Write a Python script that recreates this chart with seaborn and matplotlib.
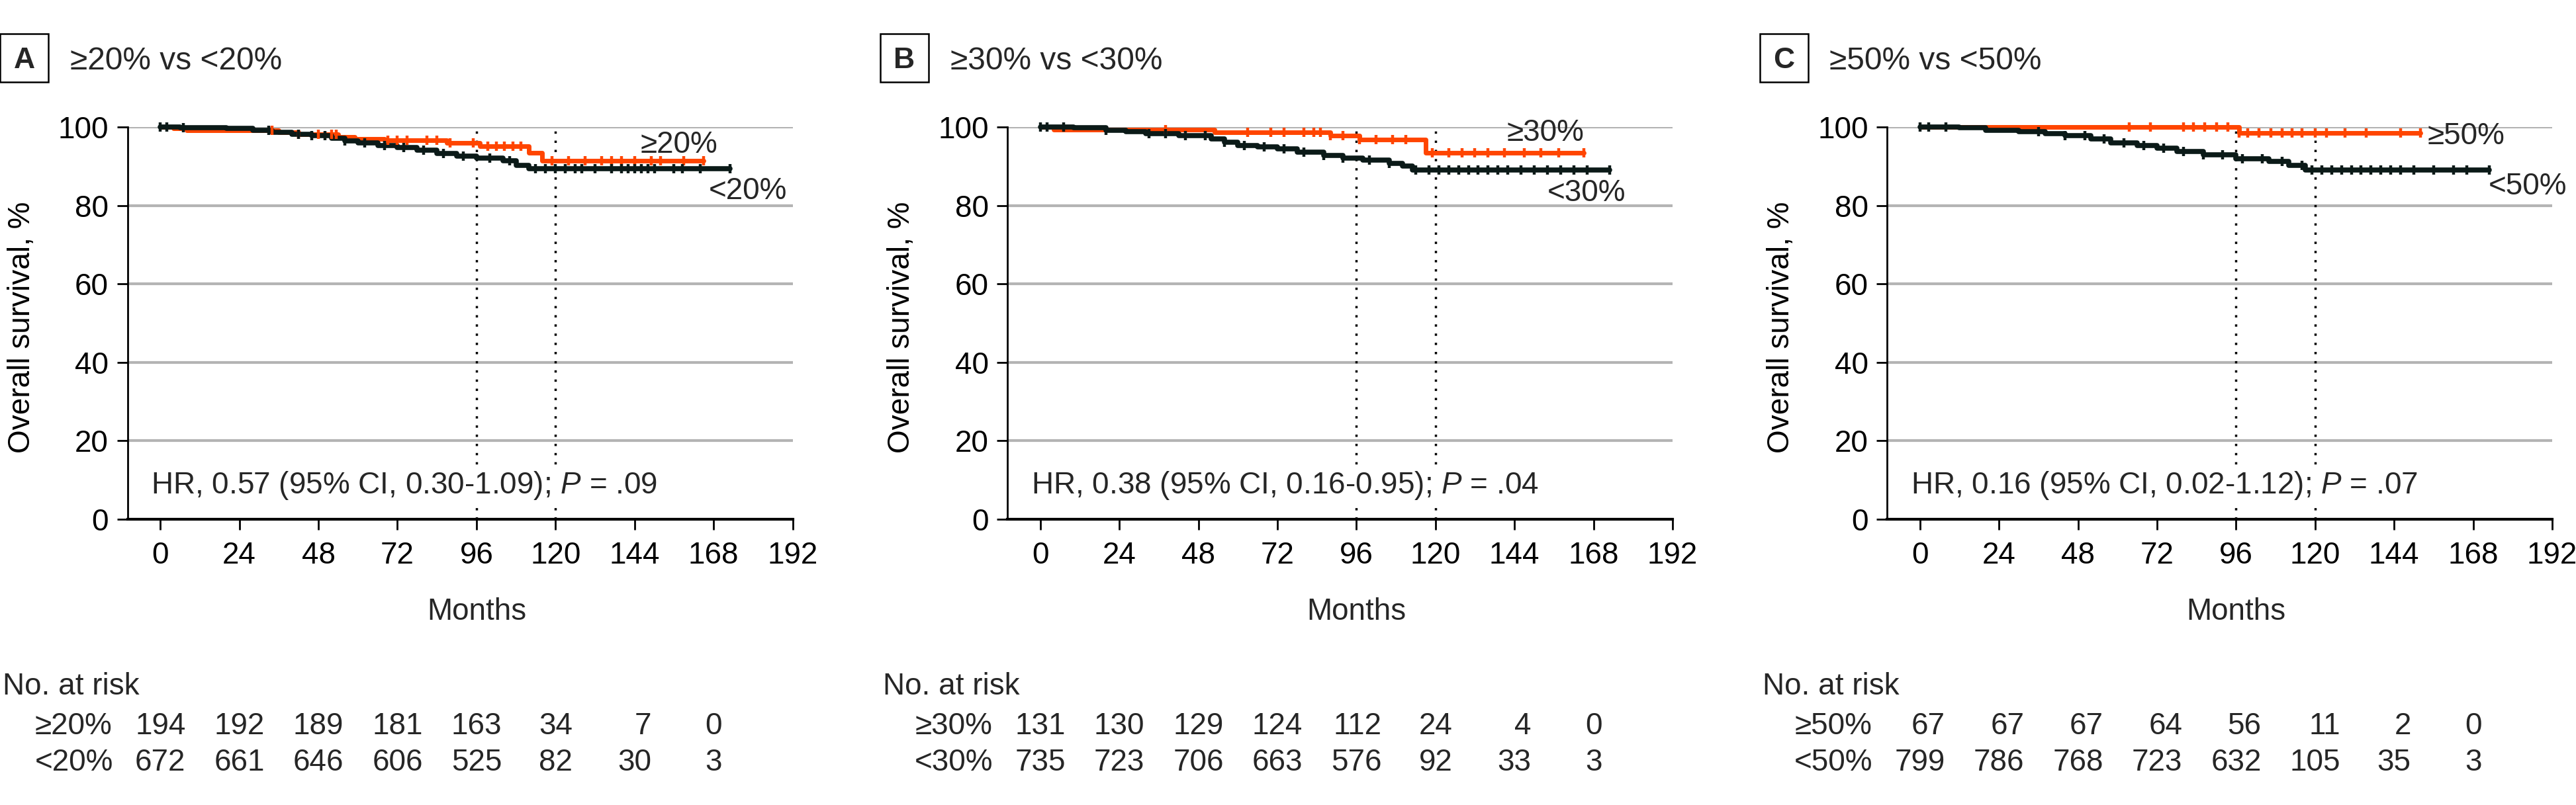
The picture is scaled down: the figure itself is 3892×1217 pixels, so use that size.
import numpy as np
import pandas as pd
import matplotlib
matplotlib.use('Agg')
import matplotlib.pyplot as plt
from matplotlib.patches import Rectangle
import seaborn as sns

# ── DATA ──────────────────────────────────────────────────────────────────────
months_ticks = [0, 24, 48, 72, 96, 120, 144, 168, 192]
risk_times = [0, 24, 48, 72, 96, 120, 144, 168]

panel_letters = ['A', 'B', 'C']
panel_titles = ['≥20% vs <20%', '≥30% vs <30%', '≥50% vs <50%']
group_hi = ['≥20%', '≥30%', '≥50%']
group_lo = ['<20%', '<30%', '<50%']
hr_texts = [r'HR, 0.57 (95% CI, 0.30-1.09); $\mathit{P}$ = .09',
            r'HR, 0.38 (95% CI, 0.16-0.95); $\mathit{P}$ = .04',
            r'HR, 0.16 (95% CI, 0.02-1.12); $\mathit{P}$ = .07']

# Kaplan-Meier steps (months, % surviving)
A_hi_t = [0, 4, 8, 36, 42, 54, 59, 68, 87, 97, 112, 116, 165]
A_hi_s = [100, 99.6, 99.1, 98.7, 98.2, 97.5, 97.0, 96.6, 96.0, 95.1, 93.4, 91.4, 91.4]
A_lo_t = [0, 6, 12, 20, 28, 34, 40, 46, 52, 56, 60, 66, 72, 78, 84, 90, 96, 104, 108, 112, 173]
A_lo_s = [100, 99.9, 99.8, 99.6, 99.2, 98.7, 98.2, 97.8, 97.1, 96.5, 95.9, 95.3, 94.8,
          94.1, 93.3, 92.6, 92.0, 91.4, 90.3, 89.3, 89.3]

B_hi_t = [0, 4, 53, 88, 97, 117, 165]
B_hi_s = [100, 99.3, 98.7, 97.8, 96.8, 93.5, 93.5]
B_lo_t = [0, 10, 20, 26, 32, 42, 52, 56, 60, 66, 72, 78, 86, 92, 98, 106, 110, 113, 173]
B_lo_s = [100, 99.8, 99.2, 98.8, 98.3, 97.8, 97.0, 96.2, 95.3, 94.9, 94.4, 93.6, 92.7,
          92.1, 91.6, 90.8, 90.0, 89.1, 89.1]

C_hi_t = [0, 97, 152]
C_hi_s = [100, 98.4, 98.4]
C_lo_t = [0, 12, 20, 30, 38, 44, 52, 58, 66, 72, 78, 86, 96, 106, 112, 117, 173]
C_lo_s = [100, 99.8, 99.2, 98.8, 98.3, 97.8, 97.0, 95.9, 95.2, 94.6, 93.8, 92.9, 91.9,
          91.3, 90.2, 89.1, 89.1]

# censoring marks (months)
A_hi_c = [34, 42, 48, 52, 53.5, 69, 72, 75, 81, 84, 88, 95, 99.5, 102, 104.5, 107, 109.5,
          119, 124, 129, 134, 137, 140, 144, 149, 152, 159, 165]
A_lo_c = [0, 2, 7, 33, 42, 46, 50, 56, 62, 68, 74, 80, 86, 92, 100, 106, 114, 117, 120,
          123, 126, 128, 132, 137, 140, 142, 144, 146, 148, 150, 156, 158.5, 164, 173]
B_hi_c = [38, 63, 70, 74, 80, 83, 85, 88, 92, 97, 102, 107, 111, 119, 124, 128, 132, 136,
          141, 147, 152, 157.5, 165]
B_lo_c = [0, 2, 7, 20, 33, 38, 44, 50, 56, 62, 68, 74, 80, 86, 92, 100, 106, 114, 118, 121,
          124, 127, 130, 133, 136, 139, 142, 146, 150, 154, 158, 162, 166, 173]
C_hi_c = [63.5, 70, 80, 83, 86.5, 90, 93.5, 97, 99.5, 103, 106.5, 110, 113, 116, 120, 123.5,
          129, 135.5, 146, 152]
C_lo_c = [0, 2.6, 7.8, 36, 44, 50, 56, 62, 68, 74, 80, 86, 92, 98, 104, 110, 116, 119, 122,
          125, 128, 131, 134, 137, 140, 143, 146, 150, 156, 162, 166, 173]

# numbers at risk
A_hi_risk = [194, 192, 189, 181, 163, 34, 7, 0]
A_lo_risk = [672, 661, 646, 606, 525, 82, 30, 3]
B_hi_risk = [131, 130, 129, 124, 112, 24, 4, 0]
B_lo_risk = [735, 723, 706, 663, 576, 92, 33, 3]
C_hi_risk = [67, 67, 67, 64, 56, 11, 2, 0]
C_lo_risk = [799, 786, 768, 723, 632, 105, 35, 3]

curves = [
    (A_hi_t, A_hi_s, A_hi_c, A_lo_t, A_lo_s, A_lo_c, A_hi_risk, A_lo_risk),
    (B_hi_t, B_hi_s, B_hi_c, B_lo_t, B_lo_s, B_lo_c, B_hi_risk, B_lo_risk),
    (C_hi_t, C_hi_s, C_hi_c, C_lo_t, C_lo_s, C_lo_c, C_hi_risk, C_lo_risk),
]

# ── STYLE / LAYOUT ────────────────────────────────────────────────────────────
sns.set_style('white')
plt.rcParams['font.family'] = ['Liberation Sans', 'DejaVu Sans']
plt.rcParams['mathtext.fontset'] = 'custom'
plt.rcParams['mathtext.rm'] = 'Liberation Sans'
plt.rcParams['mathtext.it'] = 'Liberation Sans:italic'

ORANGE = '#FF4500'
BLACK = '#0B1A18'
GRID = '#b4b4b4'
FS = 33

W, H = 3892, 1217
AX_W, AX_H = 1005, 593            # pixels
AX_LEFTS = [192.5, 1522, 2851]    # pixel x of each y spine
AX_TOP = 192                      # pixel y of the 100 % line

# label anchors inside each panel (months, %)
hi_label_pos = [(145.7, 93.4), (141.6, 96.5), (154.1, 95.6)]
lo_label_pos = [(166.6, 81.6), (153.9, 81.1), (172.6, 82.8)]


def ax_y(py):
    return (AX_TOP + AX_H - py) / AX_H


def step_value(t, s, c):
    idx = np.searchsorted(np.asarray(t), np.asarray(c), side='right') - 1
    return np.asarray(s)[idx]


fig = plt.figure(figsize=(W / 100, H / 100), dpi=100)

for i in range(3):
    hi_t, hi_s, hi_c, lo_t, lo_s, lo_c, hi_r, lo_r = curves[i]
    ax = fig.add_axes([AX_LEFTS[i] / W, (H - AX_TOP - AX_H) / H, AX_W / W, AX_H / H])

    ax.set_xlim(-10, 192)
    ax.set_ylim(0, 100)
    ax.set_axisbelow(True)
    ax.yaxis.grid(True, color=GRID, lw=3)
    ax.xaxis.grid(False)

    ax.vlines([96, 120], 0, 100, colors='black', linestyles=(0, (1, 3)), lw=2.5, zorder=1.5)

    for t, s, c, col, lw in [(hi_t, hi_s, hi_c, ORANGE, 5.0), (lo_t, lo_s, lo_c, BLACK, 5.5)]:
        df = pd.DataFrame({'Months': t, 'Survival': s})
        sns.lineplot(data=df, x='Months', y='Survival', drawstyle='steps-post',
                     estimator=None, sort=False, color=col, lw=lw, ax=ax,
                     clip_on=False, zorder=3)
        cdf = pd.DataFrame({'Months': c, 'Survival': step_value(t, s, c)})
        sns.scatterplot(data=cdf, x='Months', y='Survival', marker='|', s=110,
                        color=col, linewidth=3.2, ax=ax, clip_on=False, zorder=4)

    ax.set_xticks(months_ticks)
    ax.set_yticks([0, 20, 40, 60, 80, 100])
    ax.tick_params(axis='both', which='both', bottom=True, left=True, direction='out',
                   length=11.5, width=2, color='black', labelsize=FS, labelcolor='black')
    ax.tick_params(axis='x', pad=12)
    ax.tick_params(axis='y', pad=9)

    sns.despine(ax=ax)
    ax.spines['left'].set_bounds(0, 100)
    ax.spines['left'].set_linewidth(2)
    ax.spines['bottom'].set_linewidth(3)
    ax.spines['left'].set_color('black')
    ax.spines['bottom'].set_color('black')

    ax.set_xlabel('')
    ax.set_ylabel('Overall survival, %', fontsize=FS, color='black')
    ax.yaxis.set_label_coords(-0.137, 0.489)
    ax.text(96, ax_y(937), 'Months', transform=ax.get_xaxis_transform(),
            ha='center', va='baseline', fontsize=FS)

    # group labels at the curve ends
    ax.text(*hi_label_pos[i], group_hi[i], fontsize=FS, va='baseline', ha='left')
    ax.text(*lo_label_pos[i], group_lo[i], fontsize=FS, va='baseline', ha='left')

    # hazard ratio
    ax.text(-2.8, 6.5, hr_texts[i], fontsize=FS, va='baseline', ha='left', zorder=5,
            bbox=dict(facecolor='white', edgecolor='none', pad=5))

    # panel letter box and title
    ax.add_patch(Rectangle((-192.5 / AX_W, ax_y(124)), 73 / AX_W, 73 / AX_H,
                           transform=ax.transAxes, fill=False, edgecolor='black',
                           lw=1.8, clip_on=False))
    ax.text(-156 / AX_W, ax_y(103), panel_letters[i], transform=ax.transAxes,
            ha='center', va='baseline', fontsize=FS - 1, fontweight='bold')
    ax.text(-86.5 / AX_W, ax_y(105), panel_titles[i], transform=ax.transAxes,
            ha='left', va='baseline', fontsize=FS + 1.5)

    # number at risk table
    tr = ax.get_xaxis_transform()
    ax.text(-47.8, ax_y(1050), 'No. at risk', transform=tr, ha='left', va='baseline',
            fontsize=FS)
    for row, (lab, vals) in enumerate([(group_hi[i], hi_r), (group_lo[i], lo_r)]):
        yb = ax_y([1110, 1165][row])
        ax.text(-38.1, yb, lab, transform=tr, ha='left', va='baseline', fontsize=FS)
        for k, tm in enumerate(risk_times):
            width = max(len(str(hi_r[k])), len(str(lo_r[k])))
            ax.text(tm + width * 2.56, yb, str(vals[k]), transform=tr,
                    ha='right', va='baseline', fontsize=FS)

fig.savefig('out.png', dpi=100)
